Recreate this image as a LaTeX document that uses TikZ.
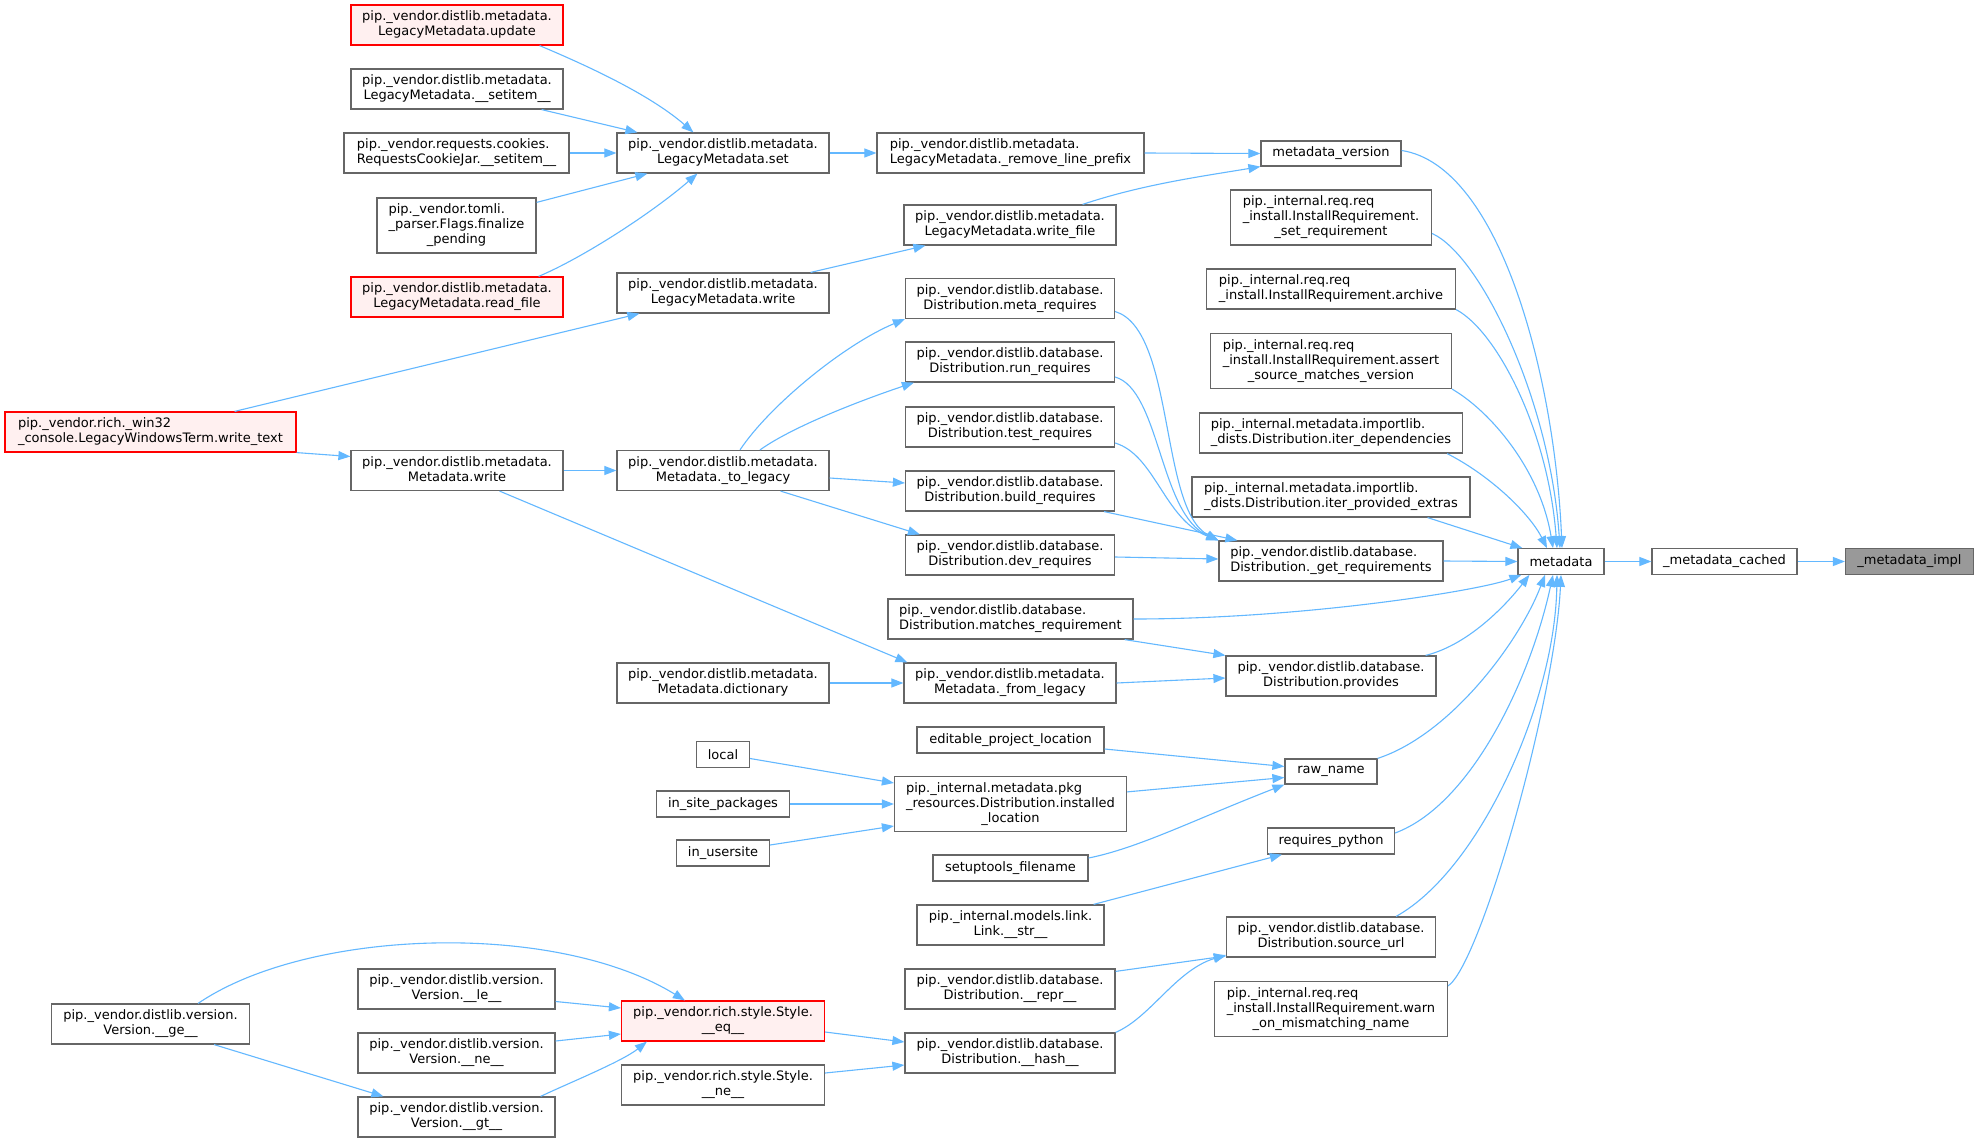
\documentclass[tikz,border=0pt]{standalone}
\usepackage{fontspec}
\setmainfont{DejaVu Sans}
\usetikzlibrary{arrows.meta,calc}
\definecolor{edgec}{HTML}{63B8FF}
\definecolor{bord}{HTML}{666666}
\definecolor{redfill}{HTML}{FFF0F0}
\definecolor{grayfill}{HTML}{999999}
\newcommand\ltwo[2]{\begin{tabular}{@{}l@{}}#1\\\multicolumn{1}{@{}c@{}}{#2}\end{tabular}}
\newcommand\lthree[3]{\begin{tabular}{@{}l@{}}#1\\#2\\\multicolumn{1}{@{}c@{}}{#3}\end{tabular}}
\tikzset{
  nb/.style={draw=bord, fill=white, line width=1.2pt, rectangle, inner sep=0pt,
    font=\fontsize{13}{15}\selectfont, minimum height=40pt},
  redb/.style={nb, draw=red, fill=redfill},
  grayb/.style={nb, fill=grayfill},
  w/.style={minimum width=#1pt},
  h/.style={minimum height=#1pt},
  e/.style={draw=edgec, line width=1.1pt, -{Triangle[length=12pt,width=9pt]}},
}
\begin{document}
\begin{tikzpicture}[x=1pt,y=-1pt]
\fill[white] (0,0) rectangle (1979,1143);
\useasboundingbox (0,0) rectangle (1979,1143);
% column A
\node[redb,w=291] (wt) at (150.5,432) {\ltwo{pip.\_vendor.rich.\_win32}{\_console.LegacyWindowsTerm.write\_text}};
\node[nb,w=198] (ge) at (150.5,1024) {\ltwo{pip.\_vendor.distlib.version.}{Version.\_\_ge\_\_}};
% column B
\node[redb,w=212] (upd) at (457,25) {\ltwo{pip.\_vendor.distlib.metadata.}{LegacyMetadata.update}};
\node[nb,w=212] (lsi) at (457,89) {\ltwo{pip.\_vendor.distlib.metadata.}{LegacyMetadata.\_\_setitem\_\_}};
\node[nb,w=225] (rcj) at (456.5,153) {\ltwo{pip.\_vendor.requests.cookies.}{RequestsCookieJar.\_\_setitem\_\_}};
\node[nb,w=159,h=55] (tom) at (456.5,225.5) {\lthree{pip.\_vendor.tomli.}{\_parser.Flags.finalize}{\_pending}};
\node[redb,w=212] (rf) at (457,297) {\ltwo{pip.\_vendor.distlib.metadata.}{LegacyMetadata.read\_file}};
\node[nb,w=212] (mw) at (457,470.5) {\ltwo{pip.\_vendor.distlib.metadata.}{Metadata.write}};
\node[nb,w=197] (vle) at (456.5,989) {\ltwo{pip.\_vendor.distlib.version.}{Version.\_\_le\_\_}};
\node[nb,w=197] (vne) at (456.5,1053) {\ltwo{pip.\_vendor.distlib.version.}{Version.\_\_ne\_\_}};
\node[nb,w=197] (vgt) at (456.5,1117) {\ltwo{pip.\_vendor.distlib.version.}{Version.\_\_gt\_\_}};
% column C
\node[nb,w=212] (set) at (723,153) {\ltwo{pip.\_vendor.distlib.metadata.}{LegacyMetadata.set}};
\node[nb,w=212] (lw) at (723,293) {\ltwo{pip.\_vendor.distlib.metadata.}{LegacyMetadata.write}};
\node[nb,w=212] (tl) at (723,470.5) {\ltwo{pip.\_vendor.distlib.metadata.}{Metadata.\_to\_legacy}};
\node[nb,w=212] (dic) at (723,683) {\ltwo{pip.\_vendor.distlib.metadata.}{Metadata.dictionary}};
\node[nb,w=53,h=25.5] (local) at (723,754.5) {local};
\node[nb,w=133,h=26] (isp) at (723,804) {in\_site\_packages};
\node[nb,w=93,h=26] (ius) at (723,853) {in\_usersite};
\node[redb,w=203] (seq) at (723,1021) {\ltwo{pip.\_vendor.rich.style.Style.}{\_\_eq\_\_}};
\node[nb,w=203] (sne) at (723,1085) {\ltwo{pip.\_vendor.rich.style.Style.}{\_\_ne\_\_}};
% column D
\node[nb,w=267] (rlp) at (1010.5,153) {\ltwo{pip.\_vendor.distlib.metadata.}{LegacyMetadata.\_remove\_line\_prefix}};
\node[nb,w=212] (wf) at (1010,225) {\ltwo{pip.\_vendor.distlib.metadata.}{LegacyMetadata.write\_file}};
\node[nb,w=209] (mr) at (1010,298.5) {\ltwo{pip.\_vendor.distlib.database.}{Distribution.meta\_requires}};
\node[nb,w=209] (rr) at (1010,362) {\ltwo{pip.\_vendor.distlib.database.}{Distribution.run\_requires}};
\node[nb,w=209] (tr) at (1010,427) {\ltwo{pip.\_vendor.distlib.database.}{Distribution.test\_requires}};
\node[nb,w=209] (br) at (1010,491) {\ltwo{pip.\_vendor.distlib.database.}{Distribution.build\_requires}};
\node[nb,w=209] (dr) at (1010,555) {\ltwo{pip.\_vendor.distlib.database.}{Distribution.dev\_requires}};
\node[nb,w=245] (mreq) at (1010.5,619) {\ltwo{pip.\_vendor.distlib.database.}{Distribution.matches\_requirement}};
\node[nb,w=212] (fl) at (1010,683) {\ltwo{pip.\_vendor.distlib.metadata.}{Metadata.\_from\_legacy}};
\node[nb,w=187,h=26] (epl) at (1010.5,740) {editable\_project\_location};
\node[nb,w=232,h=55] (il) at (1010.5,804) {\lthree{pip.\_internal.metadata.pkg}{\_resources.Distribution.installed}{\_location}};
\node[nb,w=155,h=26] (sf) at (1010.5,868) {setuptools\_filename};
\node[nb,w=187] (ls) at (1010.5,925) {\ltwo{pip.\_internal.models.link.}{Link.\_\_str\_\_}};
\node[nb,w=210] (repr) at (1010,989) {\ltwo{pip.\_vendor.distlib.database.}{Distribution.\_\_repr\_\_}};
\node[nb,w=210] (hash) at (1010,1053) {\ltwo{pip.\_vendor.distlib.database.}{Distribution.\_\_hash\_\_}};
% column E
\node[nb,w=140,h=25] (mv) at (1331,153.5) {metadata\_version};
\node[nb,w=201,h=55] (sr) at (1331,217.5) {\lthree{pip.\_internal.req.req}{\_install.InstallRequirement.}{\_set\_requirement}};
\node[nb,w=249] (arc) at (1331,289) {\ltwo{pip.\_internal.req.req}{\_install.InstallRequirement.archive}};
\node[nb,w=241,h=55] (asv) at (1331,361) {\lthree{pip.\_internal.req.req}{\_install.InstallRequirement.assert}{\_source\_matches\_version}};
\node[nb,w=263] (itd) at (1331,433) {\ltwo{pip.\_internal.metadata.importlib.}{\_dists.Distribution.iter\_dependencies}};
\node[nb,w=278] (ipe) at (1331,497) {\ltwo{pip.\_internal.metadata.importlib.}{\_dists.Distribution.iter\_provided\_extras}};
\node[nb,w=224] (gr) at (1331,561) {\ltwo{pip.\_vendor.distlib.database.}{Distribution.\_get\_requirements}};
\node[nb,w=210] (prov) at (1331,676) {\ltwo{pip.\_vendor.distlib.database.}{Distribution.provides}};
\node[nb,w=92,h=25] (rn) at (1331,771.5) {raw\_name};
\node[nb,w=127,h=26] (rp) at (1331,841) {requires\_python};
\node[nb,w=209] (su) at (1331,937) {\ltwo{pip.\_vendor.distlib.database.}{Distribution.source\_url}};
\node[nb,w=233,h=55] (warn) at (1331,1009) {\lthree{pip.\_internal.req.req}{\_install.InstallRequirement.warn}{\_on\_mismatching\_name}};
% right
\node[nb,w=86,h=25.5] (meta) at (1561,561.5) {metadata};
\node[nb,w=145,h=25.5] (mc) at (1724.5,561.5) {\_metadata\_cached};
\node[grayb,w=128,h=25.5] (impl) at (1909.5,561.5) {\_metadata\_impl};
% edges
\draw[e] ($(upd.south east)+(-24,0)$) .. controls +(45,19) and +(-45,-39) .. ($(set.north west)+(77,0)$);
\draw[e] ($(lsi.south east)+(-22,0)$) -- ($(set.north west)+(21,0)$);
\draw[e] (rcj.east) -- (set.west);
\draw[e] ($(tom.north east)+(0,5)$) -- ($(set.south west)+(31,0)$);
\draw[e] ($(rf.north east)+(-25,0)$) .. controls +(45,-19) and +(-45,39) .. ($(set.south west)+(81,0)$);
\draw[e] (set.east) -- (rlp.west);
\draw[e] (rlp.east) -- (mv.west);
\draw[e] ($(wf.north east)+(-34,0)$) .. controls +(60,-20) and +(-60,10) .. (mv.south west);
\draw[e] ($(lw.north east)+(-19,0)$) -- ($(wf.south west)+(22,0)$);
\draw[e] ($(wt.north east)+(-62,0)$) -- ($(lw.south west)+(23,0)$);
\draw[e] (wt.south east) -- ($(mw.west)+(0,-14)$);
\draw[e] (mw.east) -- (tl.west);
\draw[e] ($(mw.south east)+(-64,0)$) -- ($(fl.north west)+(4,0)$);
\draw[e] ($(tl.north)+(17,0)$) .. controls +(30,-45) and +(-60,25) .. (mr.south west);
\draw[e] ($(tl.north)+(37,0)$) .. controls +(35,-25) and +(-45,15) .. ($(rr.south west)+(9,0)$);
\draw[e] ($(tl.east)+(0,7.5)$) -- ($(br.west)+(0,-8)$);
\draw[e] ($(tl.south east)+(-49,0)$) -- ($(dr.north west)+(15,0)$);
\draw[e] ($(mr.east)+(0,13)$) .. controls +(60,18) and +(-59,-31) .. (gr.north west);
\draw[e] ($(rr.east)+(0,15)$) .. controls +(45,13) and +(-59,-26) .. (gr.north west);
\draw[e] ($(tr.east)+(0,16)$) .. controls +(40,12) and +(-54,-21) .. (gr.north west);
\draw[e] ($(br.south east)+(-11,0)$) -- ($(gr.north west)+(19,0)$);
\draw[e] ($(dr.east)+(0,2)$) -- ($(gr.west)+(0,-2)$);
\draw[e] (mreq.east) .. controls +(167,0) and +(-42,16) .. ($(meta.south west)+(4,0)$);
\draw[e] ($(mreq.south east)+(-9,0)$) -- (prov.north west);
\draw[e] (fl.east) -- ($(prov.west)+(0,2)$);
\draw[e] (dic.east) -- (fl.west);
\draw[e] ($(epl.east)+(0,9)$) -- ($(rn.west)+(0,-5)$);
\draw[e] ($(il.north east)+(0,16)$) -- ($(rn.west)+(0,6)$);
\draw[e] ($(sf.east)+(0,-10)$) .. controls +(50,-10) and +(-90,35) .. (rn.south west);
\draw[e] ($(local.east)+(0,4)$) -- ($(il.west)+(0,-21)$);
\draw[e] (isp.east) -- (il.west);
\draw[e] ($(ius.east)+(0,-8)$) -- ($(il.west)+(0,22)$);
\draw[e] ($(ls.north east)+(-11,0)$) -- ($(rp.south west)+(15,0)$);
\draw[e] ($(repr.north east)+(0,3)$) -- ($(su.west)+(0,19)$);
\draw[e] (hash.north east) .. controls +(35,-15) and +(-50,15) .. ($(su.west)+(0,18)$);
\draw[e] ($(ge.north east)+(-52,0)$) .. controls +(110,-75) and +(-130,-80) .. ($(seq.north west)+(64,0)$);
\draw[e] ($(ge.south east)+(-36,0)$) -- ($(vgt.north west)+(26,0)$);
\draw[e] ($(vle.east)+(0,12.5)$) -- ($(seq.west)+(0,-13)$);
\draw[e] ($(vne.east)+(0,-12)$) -- ($(seq.west)+(0,13)$);
\draw[e] ($(vgt.north east)+(-15,0)$) .. controls +(25,-12) and +(-25,20) .. ($(seq.south west)+(26,0)$);
\draw[e] ($(sne.east)+(0,-12)$) -- ($(hash.west)+(0,12)$);
\draw[e] ($(seq.east)+(0,11)$) -- ($(hash.west)+(0,-11)$);
\draw[e] ($(mv.east)+(0,-3)$) .. controls +(99,15) and +(-7,-169) .. ($(meta.north)+(1,0)$);
\draw[e] ($(sr.east)+(0,16)$) .. controls +(48,21.5) and +(-10,-149) .. ($(meta.north)+(-1,0)$);
\draw[e] (arc.south east) .. controls +(40,21) and +(-9,-119) .. ($(meta.north)+(-4,0)$);
\draw[e] (asv.south east) .. controls +(38,22) and +(-13,-79) .. ($(meta.north)+(-8,0)$);
\draw[e] ($(itd.south east)+(-16,0)$) .. controls +(43.5,22) and +(-17,-34) .. ($(meta.north)+(-14,0)$);
\draw[e] ($(ipe.south east)+(-43,0)$) -- ($(meta.north west)+(5,0)$);
\draw[e] (gr.east) -- (meta.west);
\draw[e] ($(prov.north east)+(-11,0)$) .. controls +(45,-11) and +(-20,26) .. ($(meta.south west)+(12,0)$);
\draw[e] (rn.north east) .. controls +(73.5,-24) and +(-25,66) .. ($(meta.south)+(-16,0)$);
\draw[e] ($(rp.east)+(0,-8)$) .. controls +(75.5,-28) and +(-23,106) .. ($(meta.south)+(-8,0)$);
\draw[e] ($(su.north east)+(-40,0)$) .. controls +(84.5,-47) and +(-2,126) .. ($(meta.south)+(-4,0)$);
\draw[e] ($(warn.north east)+(0,5)$) .. controls +(32.5,-22) and +(-6,126) .. (meta.south);
\draw[e] (meta.east) -- (mc.west);
\draw[e] (mc.east) -- (impl.west);
\end{tikzpicture}
\end{document}
